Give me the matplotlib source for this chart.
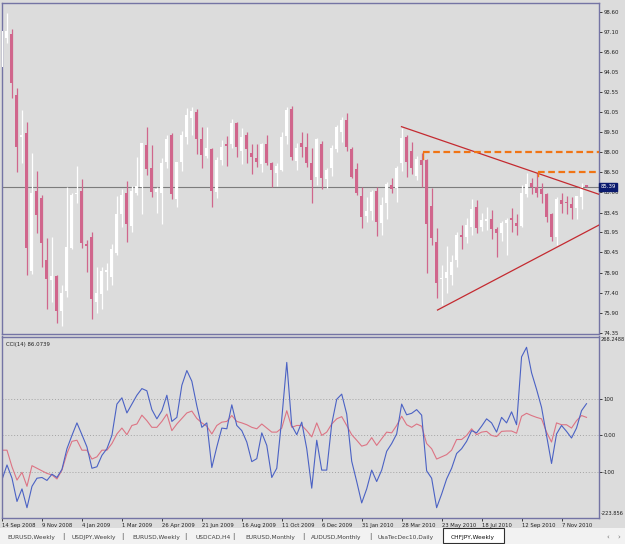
import matplotlib
matplotlib.use("Agg")
import matplotlib.pyplot as plt
from matplotlib.patches import Rectangle

# weekly CHFJPY candles, bar 0 = week of 14 Sep 2008
opens = [94.47, 96.61, 96.91, 92.33, 89.18, 89.44, 79.06, 85.11, 84.55, 79.87,
         78.36, 78.66, 76.04, 77.53, 80.75, 84.85, 85.08, 81.05, 81.58, 76.67,
         77.30, 78.99, 78.61, 80.37, 83.34, 84.95, 82.44, 84.95, 85.41, 88.55,
         86.79, 85.03, 84.90, 87.30, 89.31, 84.45, 87.25, 89.13, 90.57, 91.07,
         88.98, 87.75, 88.28, 85.03, 87.42, 88.61, 88.63, 90.24, 88.13, 89.31,
         87.98, 87.57, 87.12, 88.63, 87.17, 86.47, 86.67, 89.23, 91.25, 87.37,
         88.68, 88.43, 87.17, 86.11, 88.63, 85.96, 86.79, 88.23, 89.56, 90.44,
         88.25, 86.72, 84.70, 83.19, 83.60, 85.11, 82.69, 84.15, 85.53, 85.28,
         87.17, 89.18, 88.13, 86.21, 87.42, 87.42, 83.95, 81.25, 78.41, 78.48,
         78.74, 79.87, 81.76, 81.63, 82.34, 83.85, 82.34, 82.84, 82.94, 82.24,
         81.93, 82.69, 83.02, 82.69, 82.44, 84.85, 85.71, 85.36, 85.21, 84.85,
         83.34, 81.63, 84.40, 84.27, 84.10, 83.77, 84.65, 85.51]
highs = [97.50, 98.50, 97.29, 92.83, 91.20, 90.27, 87.93, 86.62, 84.78, 81.51,
         81.58, 78.74, 77.98, 85.41, 84.90, 86.99, 85.96, 81.38, 81.96, 79.37,
         79.37, 79.67, 81.08, 84.70, 85.21, 85.84, 85.46, 87.67, 88.73, 89.94,
         88.55, 85.41, 87.55, 89.31, 89.44, 87.30, 89.61, 91.32, 91.45, 91.25,
         89.94, 89.94, 88.30, 87.67, 88.93, 89.23, 90.52, 90.32, 89.81, 89.56,
         88.63, 88.63, 88.73, 89.31, 87.30, 87.17, 89.56, 91.40, 91.50, 88.68,
         89.56, 89.44, 88.30, 89.06, 88.88, 86.79, 88.55, 90.07, 90.64, 90.95,
         88.43, 87.17, 85.41, 84.60, 85.16, 85.36, 84.60, 85.79, 86.04, 86.97,
         89.81, 89.31, 88.81, 87.72, 87.93, 87.47, 85.28, 82.26, 79.49, 80.93,
         80.25, 82.01, 82.51, 83.02, 84.45, 84.40, 83.39, 83.85, 83.65, 82.39,
         82.84, 83.02, 83.77, 83.34, 85.53, 86.47, 86.04, 86.47, 85.71, 84.95,
         83.44, 84.60, 84.95, 84.70, 84.65, 84.70, 85.66, 85.56]
lows = [94.30, 96.23, 92.08, 86.54, 87.17, 78.74, 78.81, 81.93, 79.37, 76.17,
        76.72, 75.09, 74.88, 77.10, 80.67, 84.15, 80.80, 78.99, 75.39, 75.85,
        76.14, 77.60, 77.98, 80.25, 82.39, 81.25, 81.96, 84.78, 83.32, 86.29,
        84.65, 83.39, 82.59, 86.79, 84.45, 83.90, 86.62, 88.63, 89.31, 87.88,
        86.79, 87.55, 83.90, 84.53, 87.04, 86.97, 88.30, 87.67, 87.12, 87.22,
        86.36, 86.87, 86.51, 87.04, 85.41, 85.46, 86.62, 88.63, 87.42, 86.67,
        87.67, 86.92, 84.15, 85.53, 85.21, 85.28, 86.21, 88.05, 88.81, 88.13,
        86.04, 84.78, 82.26, 82.76, 82.89, 81.68, 81.76, 82.94, 84.90, 84.27,
        86.62, 86.16, 86.36, 85.91, 85.41, 78.91, 81.00, 76.97, 76.47, 77.35,
        77.98, 79.37, 80.67, 81.13, 81.76, 81.93, 82.08, 82.13, 81.43, 80.12,
        81.33, 80.25, 82.01, 81.76, 82.39, 84.60, 84.85, 84.65, 84.20, 82.76,
        81.33, 81.00, 83.39, 83.34, 82.94, 82.94, 83.70, 85.36]
closes = [97.17, 97.17, 93.26, 88.38, 89.31, 80.75, 84.95, 83.27, 81.13, 78.43,
          78.66, 76.02, 77.40, 80.83, 84.78, 84.95, 81.13, 80.93, 76.90, 77.40,
          79.06, 79.09, 80.67, 83.32, 84.78, 82.59, 85.08, 85.46, 88.68, 86.72,
          85.03, 85.23, 87.22, 88.98, 84.83, 87.25, 89.31, 90.82, 91.12, 88.98,
          87.80, 88.30, 85.11, 87.42, 88.38, 88.50, 90.19, 88.43, 89.18, 88.23,
          87.62, 87.30, 88.63, 87.17, 86.67, 86.97, 89.18, 91.20, 87.67, 88.30,
          88.43, 87.17, 85.91, 88.98, 86.04, 86.67, 88.30, 89.89, 90.44, 88.43,
          86.16, 84.95, 83.09, 83.60, 85.03, 82.76, 84.02, 85.61, 85.21, 86.79,
          89.06, 87.30, 86.79, 87.47, 87.04, 82.59, 81.51, 78.11, 78.53, 78.99,
          79.74, 81.76, 81.58, 82.51, 83.70, 82.26, 82.89, 82.97, 82.18, 81.93,
          82.69, 82.89, 82.89, 82.44, 84.90, 85.61, 85.36, 84.95, 84.85, 83.14,
          81.63, 84.45, 84.10, 84.15, 83.77, 84.70, 85.41, 85.39]

cci_fast = [-120, -80, -116, -179, -145, -196, -138, -116, -114, -122,
            -105, -114, -92, -36, 0, 34, 2, -31, -89, -85,
            -54, -36, 0, 85, 102, 61, 85, 109, 127, 121,
            70, 45, 67, 109, 38, 49, 136, 176, 147, 80,
            22, 34, -87, -31, 20, 18, 83, 27, 13, -18,
            -71, -63, 7, -27, -114, -89, 45, 198, 27, 2,
            36, -36, -143, -13, -94, -94, 31, 98, 112, 58,
            -70, -125, -183, -145, -94, -125, -94, -43, -22, 4,
            85, 56, 60, 70, 55, -96, -116, -196, -159, -118,
            -89, -49, -36, -16, 13, 7, 25, 45, 34, 9,
            49, 34, 64, 29, 213, 239, 170, 125, 76, 0,
            -76, 4, 27, 11, -7, 20, 67, 86.0739]
cci_slow = [-40, -40, -85, -121, -100, -138, -82, -89, -96, -103,
            -107, -118, -94, -49, -16, -13, -40, -40, -64, -58,
            -40, -40, -22, 4, 20, 2, 27, 31, 55, 40,
            22, 22, 38, 58, 13, 31, 46, 61, 66, 46,
            34, 25, 4, 27, 36, 38, 54, 38, 34, 29,
            22, 18, 31, 20, 9, 9, 20, 67, 22, 27,
            27, 13, -4, 34, 0, 9, 31, 45, 51, 27,
            2, -13, -29, -25, -6, -27, -9, 9, 7, 27,
            52, 29, 22, 31, 25, -22, -36, -64, -58, -52,
            -40, -11, -11, 0, 18, 2, 9, 11, 0, -3,
            11, 12, 12, 6, 52, 60, 54, 49, 45, 9,
            -18, 34, 29, 29, 20, 40, 54, 49]

# drawn objects: trendlines (bar, price) and horizontal levels
trend_upper = [(80.0, 89.94), (119.5, 84.83)]
trend_lower = [(87.2, 76.09), (119.5, 82.51)]
levels = [88.00, 86.50]
level_start = [84.2, 107.2]
last_price = 85.39

price_ticks = [98.60, 97.10, 95.60, 94.05, 92.55, 91.05, 89.50, 88.00, 86.50,
               85.00, 83.45, 81.95, 80.45, 78.90, 77.40, 75.90, 74.35]
date_labels = ["14 Sep 2008", "9 Nov 2008", "4 Jan 2009", "1 Mar 2009",
               "26 Apr 2009", "21 Jun 2009", "16 Aug 2009", "11 Oct 2009",
               "6 Dec 2009", "31 Jan 2010", "28 Mar 2010", "23 May 2010",
               "18 Jul 2010", "12 Sep 2010", "7 Nov 2010"]
tabs = ["EURUSD,Weekly", "USDJPY,Weekly", "EURUSD,Weekly", "USDCAD,H4",
        "EURUSD,Monthly", "AUDUSD,Monthly", "UsaTecDec10,Daily"]
tab_x = [7, 71, 132, 196, 245, 311, 377]
sep_x = [63, 122, 185, 233, 303, 370]
active_tab = "CHFJPY,Weekly"

BG = "#DCDCDC"
BEAR = "#D0668C"
BULL = "#FFFFFF"
BORDER = "#7474A4"
FS = 3.9
TXT = "#202020"

W, H = 625, 544
fig = plt.figure(figsize=(W / 100, H / 100), dpi=100)
fig.patch.set_facecolor(BG)


def px_axes(x0, y0, x1, y1):
    return fig.add_axes([x0 / W, 1 - y1 / H, (x1 - x0) / W, (y1 - y0) / H])


ax = px_axes(2, 3, 599, 334)
cax = px_axes(2, 336.5, 599, 518)
xlim = (0.1, 119.5)

for a in (ax, cax):
    a.set_facecolor(BG)
    a.set_xlim(*xlim)
    for s in a.spines.values():
        s.set_color(BORDER)
        s.set_linewidth(1.0)

# candles
n = len(closes)
idx = list(range(n))
col = [BULL if c >= o else BEAR for o, c in zip(opens, closes)]
ax.vlines(idx, lows, highs, colors=col, linewidth=0.9, zorder=2)
bottoms = [min(o, c) for o, c in zip(opens, closes)]
heights = [max(abs(c - o), 0.09) for o, c in zip(opens, closes)]
ax.bar(idx, heights, bottom=bottoms, width=0.62, color=col,
       linewidth=0, zorder=3)

ax.axhline(last_price, color="#7C7C7C", lw=0.8, zorder=1)

# trendlines, drawn as rays to the right edge
for (x0, y0), (x1, y1) in (trend_upper, trend_lower):
    slope = (y1 - y0) / (x1 - x0)
    ax.plot([x0, 125], [y0, y0 + slope * (125 - x0)], color="#C42A30",
            lw=0.9, zorder=4)

# dashed levels
for lvl, x0, drop in zip(levels, level_start, [0.5, 0.3]):
    ax.plot([x0, 125], [lvl, lvl], color="#F07414", lw=1.6,
            ls=(0, (3.0, 1.6)), zorder=4)
    ax.plot([x0, x0], [lvl, lvl - drop], color="#F07414", lw=1.0, zorder=4)

ax.set_ylim(74.28, 99.28)
ax.set_xticks([])
ax.yaxis.tick_right()
ax.set_yticks(price_ticks)
ax.set_yticklabels([f"{t:.2f}" for t in price_ticks])
ax.tick_params(axis="y", length=2, width=0.6, pad=1, labelsize=FS, colors=TXT)
ax.text(1.002, last_price, f"{last_price:.2f}", transform=ax.get_yaxis_transform(),
        ha="left", va="center", fontsize=FS, color="white", zorder=10,
        bbox=dict(boxstyle="square,pad=0.3", fc="#0A1A6E", ec="#0A1A6E"))

# CCI panel
cax.plot(idx, cci_slow, color="#DC7484", lw=0.8)
cax.plot(idx, cci_fast, color="#4B62C4", lw=0.8)
for g in (100, 0, -100):
    cax.axhline(g, color="#A4A4A4", lw=0.7, ls=(0, (1, 2)), zorder=0)
cax.set_ylim(-223.856, 268.2488)
cax.yaxis.tick_right()
cax.set_yticks([100, 0, -100])
cax.set_yticklabels(["100", "0.00", "-100"])
cax.tick_params(axis="y", length=2, width=0.6, pad=1, labelsize=FS, colors=TXT)
cax.text(1.003, 0.995, "268.2488", transform=cax.transAxes, ha="left",
         va="top", fontsize=3.7, color=TXT)
cax.text(1.003, 0.01, "-223.856", transform=cax.transAxes, ha="left",
         va="bottom", fontsize=3.7, color=TXT)
cax.text(0.006, 0.97, f"CCI(14) {cci_fast[-1]:.4f}", transform=cax.transAxes,
         ha="left", va="top", fontsize=FS, color=TXT)

cax.set_xticks(list(range(0, 8 * len(date_labels), 8)))
cax.set_xticklabels(date_labels)
cax.tick_params(axis="x", length=2.5, width=0.6, pad=1.2, labelsize=3.8,
                colors=TXT)
for lab in cax.get_xticklabels():
    lab.set_ha("left")

# tab bar
fig.patches.append(Rectangle((0, 0), 1, (H - 528) / H, transform=fig.transFigure,
                             fc="#F2F2F2", ec="none", zorder=0))
ty = 1 - 537 / H
for name, x in zip(tabs, tab_x):
    fig.text(x / W, ty, name, ha="left", va="center", fontsize=4.2,
             color="#404040")
for x in sep_x:
    fig.text(x / W, ty, "|", ha="center", va="center", fontsize=5,
             color="#505050")
fig.patches.append(Rectangle((443 / W, 1 - 543 / H), 61 / W, 15 / H,
                             transform=fig.transFigure, fc="white",
                             ec="#303030", lw=0.8, zorder=1))
fig.text(451 / W, ty, active_tab, ha="left", va="center", fontsize=4.2,
         color="#101010", zorder=2)
fig.text(608 / W, ty, "\u2039", ha="center", va="center", fontsize=5, color="#707070")
fig.text(619 / W, ty, "\u203a", ha="center", va="center", fontsize=5, color="#707070")

fig.savefig("out.png", dpi=100, facecolor=fig.get_facecolor())
